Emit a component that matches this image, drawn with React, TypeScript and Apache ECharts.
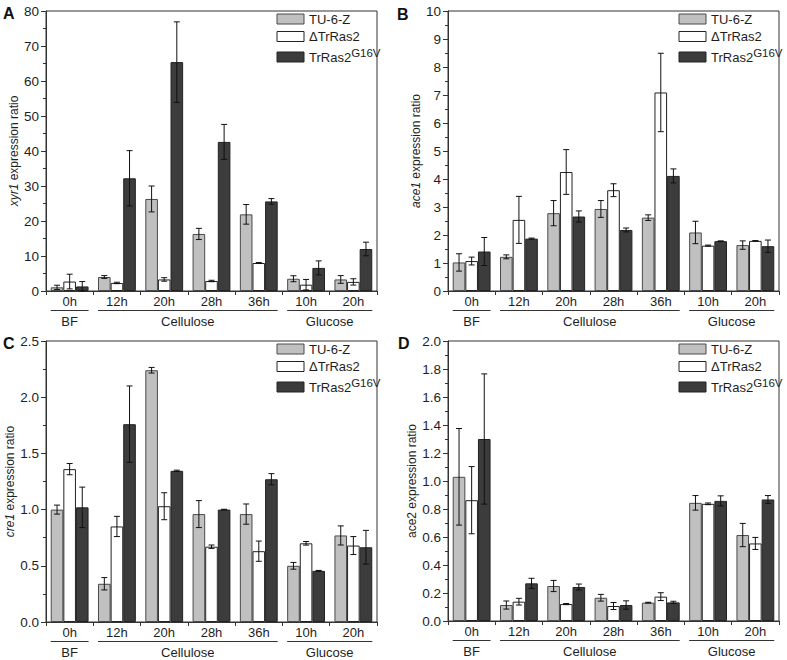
import React, { useEffect, useRef } from 'react';
import * as echarts from 'echarts';

const FONT = '"Liberation Sans", Arial, Helvetica, sans-serif';

const categories = ['0h', '12h', '20h', '28h', '36h', '10h', '20h'];
const seriesNames = ['TU-6-Z', 'ΔTrRas2', 'TrRas2G16V'];
const groupNames = ['BF', 'Cellulose', 'Glucose'];
const groupStart = [0, 1, 5];
const groupEnd = [0, 4, 6];

// Panel A: xyr1
const xyr1TU = [1.05, 4.0, 26.3, 16.3, 21.9, 3.5, 3.3];
const xyr1TUErr = [0.6, 0.4, 3.7, 1.6, 2.8, 0.85, 1.1];
const xyr1Del = [2.7, 2.3, 3.3, 2.86, 8.0, 1.8, 2.6];
const xyr1DelErr = [2.1, 0.2, 0.5, 0.2, 0.15, 1.5, 0.9];
const xyr1G16V = [1.3, 32.2, 65.4, 42.6, 25.6, 6.6, 12.0];
const xyr1G16VErr = [1.4, 7.9, 11.5, 5.0, 0.8, 2.0, 1.95];

// Panel B: ace1
const ace1TU = [1.02, 1.22, 2.78, 2.93, 2.62, 2.09, 1.64];
const ace1TUErr = [0.31, 0.07, 0.45, 0.3, 0.1, 0.4, 0.15];
const ace1Del = [1.07, 2.54, 4.25, 3.6, 7.09, 1.62, 1.79];
const ace1DelErr = [0.14, 0.84, 0.8, 0.23, 1.4, 0.02, 0.01];
const ace1G16V = [1.41, 1.87, 2.66, 2.18, 4.11, 1.78, 1.6];
const ace1G16VErr = [0.5, 0.02, 0.2, 0.07, 0.25, 0.01, 0.22];

// Panel C: cre1
const cre1TU = [1.0, 0.34, 2.24, 0.96, 0.96, 0.5, 0.77];
const cre1TUErr = [0.04, 0.055, 0.025, 0.12, 0.09, 0.03, 0.085];
const cre1Del = [1.36, 0.85, 1.03, 0.67, 0.63, 0.7, 0.68];
const cre1DelErr = [0.05, 0.09, 0.12, 0.015, 0.09, 0.016, 0.08];
const cre1G16V = [1.02, 1.76, 1.345, 1.0, 1.27, 0.455, 0.665];
const cre1G16VErr = [0.18, 0.34, 0.006, 0.003, 0.05, 0.004, 0.15];

// Panel D: ace2
const ace2TU = [1.03, 0.114, 0.25, 0.166, 0.131, 0.844, 0.614];
const ace2TUErr = [0.345, 0.029, 0.04, 0.024, 0.003, 0.052, 0.083];
const ace2Del = [0.863, 0.138, 0.121, 0.107, 0.174, 0.837, 0.554];
const ace2DelErr = [0.24, 0.024, 0.004, 0.025, 0.028, 0.006, 0.043];
const ace2G16V = [1.3, 0.269, 0.243, 0.114, 0.133, 0.858, 0.868];
const ace2G16VErr = [0.465, 0.036, 0.021, 0.03, 0.008, 0.036, 0.028];

const panelLetters = ['A', 'B', 'C', 'D'];
const geneNames = ['xyr1', 'ace1', 'cre1', 'ace2'];
const geneItalic = [true, true, true, false];
const yMax = [80, 10, 2.5, 2.0];
const yInterval = [10, 1, 0.5, 0.2];
const yDecimals = [0, 0, 1, 1];

const panelValues = [
  [xyr1TU, xyr1Del, xyr1G16V],
  [ace1TU, ace1Del, ace1G16V],
  [cre1TU, cre1Del, cre1G16V],
  [ace2TU, ace2Del, ace2G16V],
];
const panelErrors = [
  [xyr1TUErr, xyr1DelErr, xyr1G16VErr],
  [ace1TUErr, ace1DelErr, ace1G16VErr],
  [cre1TUErr, cre1DelErr, cre1G16VErr],
  [ace2TUErr, ace2DelErr, ace2G16VErr],
];

// layout (pixels)
const grids = [
  { left: 46, top: 11, width: 331, height: 280 },
  { left: 448, top: 11, width: 331, height: 280 },
  { left: 46, top: 341, width: 331, height: 281 },
  { left: 448, top: 341, width: 331, height: 280 },
];
const letterPos = [
  [3, 13],
  [397, 14],
  [3, 343],
  [398, 343],
];

const barFill = ['#c0c0c0', '#ffffff', '#3c3c3c'];
const barBorder = ['#4a4a4a', '#222222', '#222222'];
const AXIS = '#333333';
const TEXT = '#1e1e1e';

function buildOption() {
  const xAxis: any[] = [];
  const yAxis: any[] = [];
  const series: any[] = [];
  const graphic: any[] = [];

  grids.forEach((g, gi) => {
    xAxis.push({
      type: 'category',
      gridIndex: gi,
      data: categories,
      boundaryGap: true,
      axisLine: { show: true, lineStyle: { color: AXIS, width: 1 } },
      axisTick: { show: true, length: 4, inside: false, lineStyle: { color: AXIS } },
      axisLabel: { interval: 0, margin: 4, fontSize: 13, color: TEXT, fontFamily: FONT },
      splitLine: { show: false },
    });
    const dec = yDecimals[gi];
    yAxis.push({
      type: 'value',
      gridIndex: gi,
      min: 0,
      max: yMax[gi],
      interval: yInterval[gi],
      axisLine: { show: true, lineStyle: { color: AXIS, width: 1 } },
      axisTick: { show: true, length: 5, lineStyle: { color: AXIS } },
      minorTick: { show: true, splitNumber: 2, length: 3, lineStyle: { color: AXIS } },
      splitLine: { show: false },
      minorSplitLine: { show: false },
      axisLabel: {
        margin: 7,
        fontSize: 13.5,
        color: TEXT,
        fontFamily: FONT,
        formatter: (v: number) => v.toFixed(dec),
      },
      name: geneItalic[gi]
        ? `{i|${geneNames[gi]}} expression ratio`
        : `${geneNames[gi]} expression ratio`,
      nameLocation: 'middle',
      nameGap: 26,
      nameTextStyle: {
        fontSize: 12,
        color: TEXT,
        fontFamily: FONT,
        rich: { i: { fontStyle: 'italic', fontSize: 12, color: TEXT, fontFamily: FONT } },
      },
    });

    // bars
    for (let k = 0; k < 3; k++) {
      series.push({
        type: 'bar',
        name: seriesNames[k],
        xAxisIndex: gi,
        yAxisIndex: gi,
        data: panelValues[gi][k],
        barGap: '0%',
        barCategoryGap: '20%',
        itemStyle: { color: barFill[k], borderColor: barBorder[k], borderWidth: 1 },
        silent: true,
        z: 2,
      });
    }

    // error bars
    const errData: number[][] = [];
    for (let k = 0; k < 3; k++) {
      panelValues[gi][k].forEach((v, i) => {
        errData.push([i, k, v, panelErrors[gi][k][i]]);
      });
    }
    series.push({
      type: 'custom',
      name: 'err' + gi,
      xAxisIndex: gi,
      yAxisIndex: gi,
      data: errData,
      encode: { x: 0, y: 2 },
      silent: true,
      clip: false,
      z: 5,
      renderItem: (params: any, api: any) => {
        const cat = api.value(0);
        const k = api.value(1);
        const v = api.value(2);
        const e = api.value(3);
        const band = api.size([1, 0])[0];
        const bw = (band * 0.8) / 3;
        const cx = api.coord([cat, 0])[0] + (k - 1) * bw;
        const yt = api.coord([cat, v + e])[1];
        const yb = api.coord([cat, Math.max(0, v - e)])[1];
        const cap = 3;
        const st = { stroke: '#111', lineWidth: 1 };
        return {
          type: 'group',
          children: [
            { type: 'line', shape: { x1: cx, y1: yt, x2: cx, y2: yb }, style: st },
            { type: 'line', shape: { x1: cx - cap, y1: yt, x2: cx + cap, y2: yt }, style: st },
            { type: 'line', shape: { x1: cx - cap, y1: yb, x2: cx + cap, y2: yb }, style: st },
          ],
        };
      },
    });

    // group annotations under the axis
    const grpData = groupStart.map((s, i) => [s, groupEnd[i], 0, i]);
    series.push({
      type: 'custom',
      name: 'groups' + gi,
      xAxisIndex: gi,
      yAxisIndex: gi,
      data: grpData,
      encode: { x: [0, 1], y: 2 },
      silent: true,
      clip: false,
      z: 5,
      renderItem: (params: any, api: any) => {
        const s = api.value(0);
        const e = api.value(1);
        const idx = api.value(3);
        const band = api.size([1, 0])[0];
        const p0 = api.coord([s, 0]);
        const p1 = api.coord([e, 0]);
        const x0 = p0[0] - band * 0.4;
        const x1 = p1[0] + band * 0.4;
        const y = p0[1];
        return {
          type: 'group',
          children: [
            {
              type: 'line',
              shape: { x1: x0, y1: y + 19.5, x2: x1, y2: y + 19.5 },
              style: { stroke: AXIS, lineWidth: 1 },
            },
            {
              type: 'text',
              style: {
                text: groupNames[idx],
                x: (x0 + x1) / 2,
                y: y + 30.5,
                align: 'center',
                verticalAlign: 'middle',
                fontSize: 13,
                fontFamily: FONT,
                fill: TEXT,
              },
            },
          ],
        };
      },
    });

    // legend (drawn)
    const lx = g.left + g.width - 100;
    const rowTop = [g.top + 3, g.top + 20.5, g.top + 41];
    for (let k = 0; k < 3; k++) {
      graphic.push({
        type: 'rect',
        shape: { x: lx, y: rowTop[k], width: 27, height: 10 },
        style: { fill: barFill[k], stroke: barBorder[k], lineWidth: 1 },
        silent: true,
      });
      const cy = rowTop[k] + 5;
      if (k < 2) {
        graphic.push({
          type: 'text',
          style: {
            text: seriesNames[k],
            x: lx + 32,
            y: cy,
            align: 'left',
            verticalAlign: 'middle',
            fontSize: 13,
            fontFamily: FONT,
            fill: TEXT,
          },
          silent: true,
        });
      } else {
        graphic.push({
          type: 'text',
          style: {
            text: '{n|TrRas2}{s|G16V}',
            x: lx + 32,
            y: cy + 6.5,
            align: 'left',
            verticalAlign: 'bottom',
            fontSize: 13,
            fontFamily: FONT,
            fill: TEXT,
            rich: {
              n: { fontSize: 13, lineHeight: 13, verticalAlign: 'bottom', fontFamily: FONT, fill: TEXT },
              s: { fontSize: 11.5, lineHeight: 11.5, padding: [0, 0, 8.5, 0], fontFamily: FONT, fill: TEXT },
            },
          },
          silent: true,
        });
      }
    }

    // panel letter
    graphic.push({
      type: 'text',
      style: {
        text: panelLetters[gi],
        x: letterPos[gi][0],
        y: letterPos[gi][1],
        align: 'left',
        verticalAlign: 'middle',
        fontSize: 16,
        fontWeight: 'bold',
        fontFamily: FONT,
        fill: '#111',
      },
      silent: true,
    });
  });

  return {
    animation: false,
    backgroundColor: '#ffffff',
    textStyle: { fontFamily: FONT },
    grid: grids.map((g) => ({
      ...g,
      show: true,
      borderColor: AXIS,
      borderWidth: 1,
      backgroundColor: 'transparent',
      containLabel: false,
    })),
    xAxis,
    yAxis,
    series,
    graphic,
  };
}

export default function App() {
  const ref = useRef<HTMLDivElement>(null);
  useEffect(() => {
    document.body.style.margin = '0';
    if (!ref.current) return;
    const chart = echarts.init(ref.current, undefined, { renderer: 'svg' });
    chart.setOption(buildOption() as any);
    return () => {
      chart.dispose();
    };
  }, []);
  return <div ref={ref} style={{ width: 787, height: 660 }} />;
}
